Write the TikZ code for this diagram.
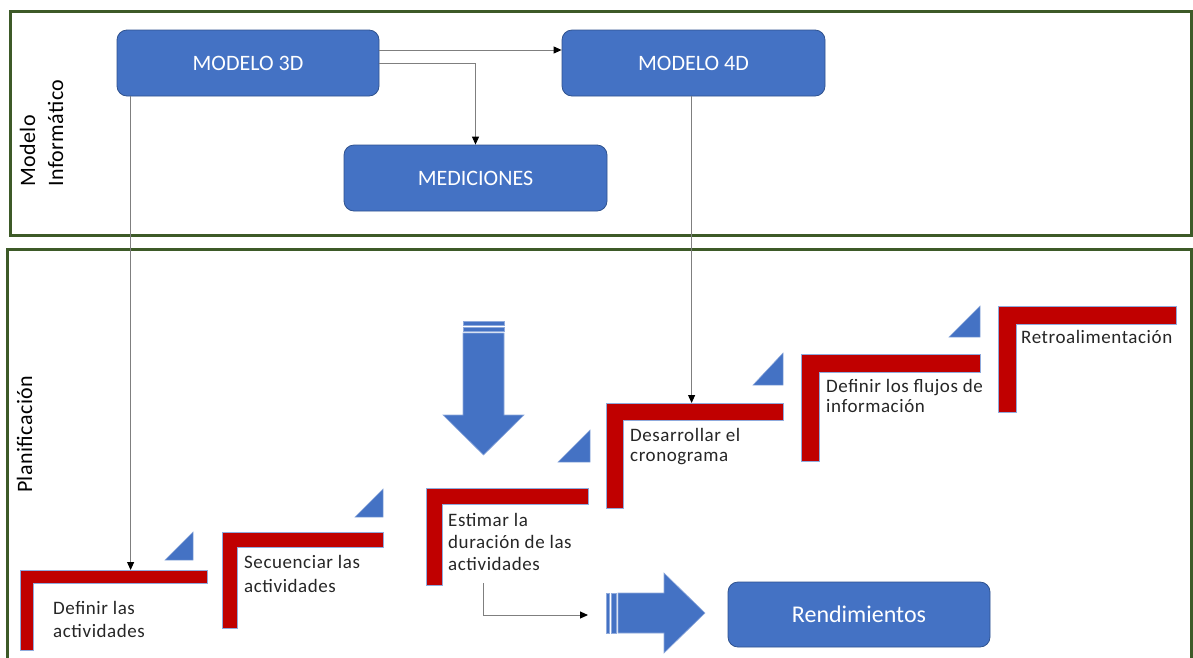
\documentclass[tikz,border=0pt]{standalone}
\usepackage{fontspec}
\setmainfont{Carlito}
\usetikzlibrary{arrows.meta,calc}
\definecolor{framegreen}{HTML}{3D5A28}
\definecolor{boxblue}{HTML}{4472C4}
\definecolor{boxedge}{HTML}{2F528F}
\definecolor{stepred}{HTML}{C00000}
\definecolor{stepedge}{HTML}{8FAADC}
\definecolor{labeltext}{HTML}{262626}
\definecolor{linegray}{HTML}{7F7F7F}

% L-shaped step: x1,y1 (top left), x2 (right end), y2 (bottom end), bar thickness
\newcommand\stepL[5]{\path[stepbar] (#1,#2) -- (#3,#2) -- (#3,{#2+#5}) -- ({#1+#5},{#2+#5}) -- ({#1+#5},#4) -- (#1,#4) -- cycle;}
% right triangle with the right angle at bottom right: x1,y1,x2,y2
\newcommand\stepwedge[4]{\path[wedge] (#1,#4) -- (#3,#4) -- (#3,#2) -- cycle;}

\begin{document}
\begin{tikzpicture}[x=1pt,y=-1pt,
  frame/.style={draw=framegreen,line width=3pt},
  bluebox/.style={draw=boxedge,line width=0.8pt,fill=boxblue,rounded corners=10pt,
    text=white,inner sep=0pt,font=\fontsize{22}{26}\selectfont},
  conn/.style={draw=linegray,line width=1pt,-{Triangle[length=8pt,width=7pt,color=black]}},
  stepbar/.style={fill=stepred,draw=stepedge,line width=0.8pt},
  wedge/.style={fill=boxblue,draw=stepedge,line width=0.5pt},
  steptext/.style={anchor=north west,align=left,inner sep=0pt,text=labeltext,
    font=\fontsize{19}{22}\selectfont\addfontfeature{LetterSpace=3}},
  lane/.style={rotate=90,align=left,inner sep=0pt,text=black,
    font=\fontsize{22}{28}\selectfont\addfontfeature{LetterSpace=2}},
  blockarrow/.style={fill=boxblue,draw=stepedge,line width=0.6pt}
]
\useasboundingbox (0,0) rectangle (1193,657);
\fill[white] (0,0) rectangle (1193,657);

% lanes
\draw[frame] (10,11) rectangle (1191.5,235);
\begin{scope}
  \clip (0,0) rectangle (1193,657);
  \draw[frame] (7,249) rectangle (1191.5,680);
\end{scope}
\node[lane,anchor=west] (laneA) at (41.5,187) {Modelo\\Informático};
\node[lane,anchor=base west] (laneB) at (32,493) {Planificación};

% model boxes
\node[bluebox,minimum width=262pt,minimum height=66pt] (m3) at (248,63) {MODELO 3D};
\node[bluebox,minimum width=263pt,minimum height=66pt] (m4) at (693.5,63) {MODELO 4D};
\node[bluebox,minimum width=263pt,minimum height=66pt] (med) at (475.5,178) {MEDICIONES};
\node[bluebox,minimum width=262pt,minimum height=65pt,font=\fontsize{24}{28}\selectfont] (rend) at (859,614.5) {Rendimientos};

% steps
\stepL{20}{570}{207}{650}{13}
\stepL{222}{532}{383}{628}{15}
\stepL{426}{488}{588}{585}{16}
\stepL{606}{403}{783}{508}{17}
\stepL{801}{354}{980}{461}{18}
\stepL{998}{306}{1176}{412}{18}
\coordinate (s1) at (20,570);
\coordinate (s4) at (606,403);

\stepwedge{165}{532}{193}{560}
\stepwedge{355}{489}{383}{517}
\stepwedge{558}{430}{590}{462}
\stepwedge{753}{353}{783}{385}
\stepwedge{949}{306}{980}{337}

% step labels
\node[steptext] (t1) at (53,600) {\rule{0pt}{14pt}Definir las\\[1pt]actividades};
\node[steptext] (t2) at (244,554) {\rule{0pt}{14pt}Secuenciar las\\[2pt]actividades};
\node[steptext] (t3) at (448,512) {\rule{0pt}{14pt}Estimar la\\duración de las\\actividades};
\node[steptext] (t4) at (630,427) {\rule{0pt}{14pt}Desarrollar el\\[-2pt]cronograma};
\node[steptext] (t5) at (826,378) {\rule{0pt}{14pt}Definir los flujos de\\[-2pt]información};
\node[steptext] (t6) at (1021,329) {\rule{0pt}{14pt}Retroalimentación};

% block arrows
\path[blockarrow] (463,321) rectangle (504,325);
\path[blockarrow] (463,327) rectangle (504,331);
\path[blockarrow] (463,333) -- (504,333) -- (504,415) -- (524,415) -- (483.5,455)
  -- (443,415) -- (463,415) -- cycle;
\path[blockarrow] (606,593) rectangle (609,633);
\path[blockarrow] (611,593) rectangle (616,633);
\path[blockarrow] (618,593) -- (664,593) -- (664,573) -- (705,613) -- (664,653)
  -- (664,633) -- (618,633) -- cycle;

% connectors
\draw[conn] ([yshift=13pt]m3.east) -- ([yshift=13pt]m4.west);
\draw[conn] (m3.east) -| (med.north);
\coordinate (d3) at ($(m3.south west)+(14,0)$);
\draw[conn] (d3) -- (d3 |- s1);
\coordinate (d4) at ($(m4.south west)+(130,0)$);
\draw[conn] (d4) -- (d4 |- s4);
\coordinate (est) at (483,583);
\coordinate (estend) at (588,615);
\draw[conn] (est) |- (estend);
\end{tikzpicture}
\end{document}
